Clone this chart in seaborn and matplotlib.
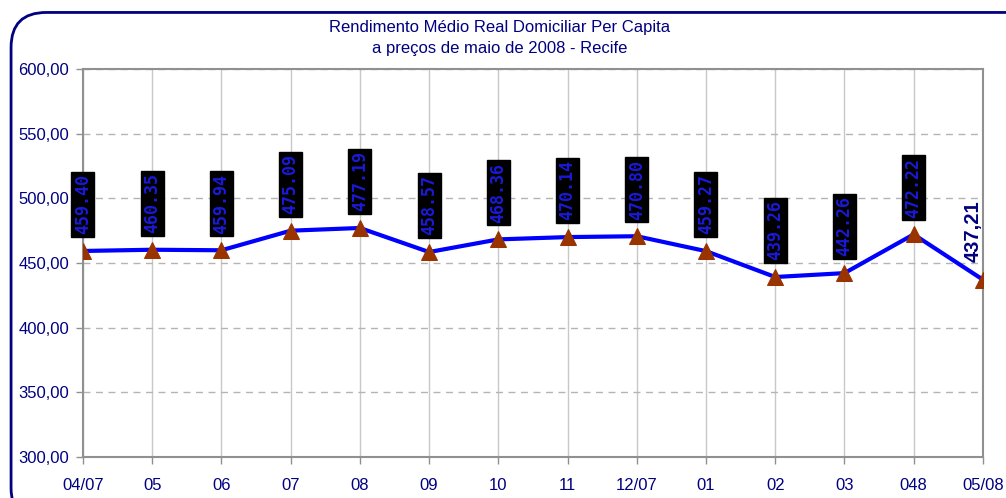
import numpy as np
import pandas as pd
import matplotlib
matplotlib.use("Agg")
import matplotlib.pyplot as plt
import seaborn as sns
from matplotlib.patches import FancyBboxPatch

# Data
meses = ['04/07', '05', '06', '07', '08', '09', '10', '11', '12/07',
         '01', '02', '03', '048', '05/08']
rendimento = [459.40, 460.35, 459.94, 475.09, 477.19, 458.57, 468.36,
              470.14, 470.80, 459.27, 439.26, 442.26, 472.22, 437.21]
y_ticks = [300, 350, 400, 450, 500, 550, 600]

navy = '#000080'

sns.set_theme(style='white')
plt.rcParams['font.family'] = ['Liberation Sans', 'DejaVu Sans']

df = pd.DataFrame({'pos': np.arange(len(meses)), 'valor': rendimento})

fig = plt.figure(figsize=(10.06, 4.98), dpi=100)
ax = fig.add_axes([0.0825, 0.0823, 0.8945, 0.7787])

# rounded chart frame
frame = FancyBboxPatch((0.011, -0.05), 1.05, 1.025,
                       boxstyle='round,pad=0,rounding_size=0.035',
                       transform=fig.transFigure, facecolor='none',
                       edgecolor=navy, linewidth=2, mutation_aspect=2.0,
                       clip_on=False)
fig.patches.append(frame)

sns.lineplot(data=df, x='pos', y='valor', ax=ax, color='#0000FF',
             linewidth=3, marker='^', markersize=11.5,
             markerfacecolor='#993300', markeredgecolor='#993300', zorder=3)

ax.set_xlim(0, len(meses) - 1)
ax.set_ylim(300, 600)
ax.set_xticks(df['pos'])
ax.set_xticklabels(meses)
ax.set_yticks(y_ticks)
ax.set_yticklabels([f'{v:.2f}'.replace('.', ',') for v in y_ticks])
ax.set_xlabel('')
ax.set_ylabel('')

ax.xaxis.grid(True, color='#c8c8c8', linewidth=1, linestyle='-')
ax.yaxis.grid(True, color='#b4b4b4', linewidth=1, linestyle=(0, (5, 4)))
for s in ax.spines.values():
    s.set_color('#909090')
    s.set_linewidth(1.5)
ax.tick_params(axis='both', colors='#909090', length=5, width=1,
               labelcolor=navy, labelsize=12, direction='out',
               bottom=True, left=True)
ax.tick_params(axis='x', pad=10)
ax.tick_params(axis='y', pad=5)

# value labels
for i, v in enumerate(rendimento):
    if i == len(rendimento) - 1:
        ax.annotate(f'{v:.2f}'.replace('.', ','), (i, v), xytext=(-7, 13),
                    textcoords='offset points', rotation=90, ha='center',
                    va='bottom', fontsize=14.5, fontweight='bold', color=navy,
                    annotation_clip=False)
    else:
        ax.annotate(f'{v:.2f}', (i, v), xytext=(0, 12),
                    textcoords='offset points', rotation=90, ha='center',
                    va='bottom', fontsize=12, color='#1a1ad8',
                    fontweight='bold', family='DejaVu Sans Mono', zorder=4,
                    bbox=dict(boxstyle='square,pad=0.15', facecolor='black',
                              edgecolor='black'))

fig.text(0.497, 0.945, 'Rendimento Médio Real Domiciliar Per Capita',
         ha='center', va='center', color=navy, fontsize=12)
fig.text(0.497, 0.903, 'a preços de maio de 2008 - Recife',
         ha='center', va='center', color=navy, fontsize=12)

fig.savefig('out.png', dpi=100)
